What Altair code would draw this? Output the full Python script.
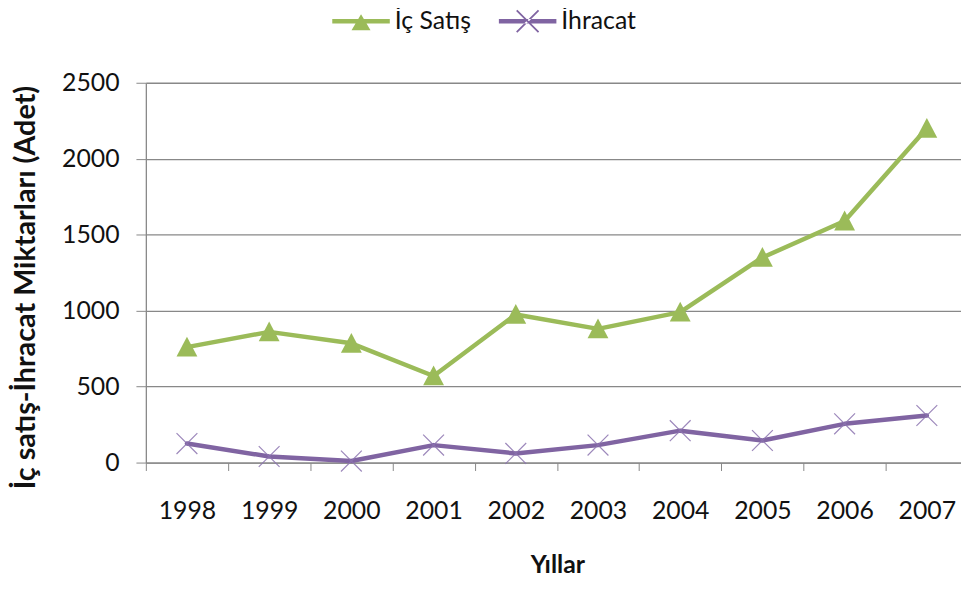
import altair as alt
import pandas as pd

# ---- data ----
years = [1998, 1999, 2000, 2001, 2002, 2003, 2004, 2005, 2006, 2007]
ic_satis = [760, 860, 785, 570, 975, 880, 990, 1350, 1590, 2200]
ihracat = [125, 40, 10, 115, 60, 115, 210, 145, 255, 310]
series_names = ["İç Satış", "İhracat"]
series_colors = ["#9BBB59", "#8064A2"]
y_ticks = [0, 500, 1000, 1500, 2000, 2500]
x_title = "Yıllar"
y_title = "İç satış-İhracat Miktarları (Adet)"

df = pd.DataFrame({
    "Yıl": [str(y) for y in years] * 2,
    "Değer": ic_satis + ihracat,
    "Seri": [series_names[0]] * len(years) + [series_names[1]] * len(years),
})

FONT = "Lato"
GRAY = "#888888"
TXT = "#111111"

x_scale = alt.Scale(type="band", paddingInner=0, paddingOuter=0)
y_scale = alt.Scale(domain=[y_ticks[0], y_ticks[-1]], nice=False)

x_enc = alt.X(
    "Yıl:O",
    scale=x_scale,
    sort=[str(y) for y in years],
    axis=alt.Axis(
        tickBand="extent",
        labelAngle=0,
        tickSize=8,
        tickColor=GRAY,
        domainColor=GRAY,
        domainWidth=1.3,
        labelPadding=28,
        labelFont=FONT,
        labelFontSize=25,
        labelColor=TXT,
        grid=False,
        title=x_title,
        titleFont=FONT,
        titleFontSize=25,
        titleFontWeight="bold",
        titleColor=TXT,
        titleX=415,
        titleY=103,
        titleBaseline="middle",
        titleAlign="center",
    ),
)

y_enc = alt.Y(
    "Değer:Q",
    scale=y_scale,
    axis=alt.Axis(
        values=y_ticks,
        format="d",
        tickSize=10,
        tickColor=GRAY,
        domainColor=GRAY,
        domainWidth=1.3,
        gridColor=GRAY,
        gridWidth=1.3,
        labelPadding=17,
        labelFont=FONT,
        labelFontSize=25,
        labelColor=TXT,
        title=y_title,
        titleFont=FONT,
        titleFontSize=29,
        titleFontWeight="bold",
        titleColor=TXT,
        titleAngle=270,
        titleX=-121,
        titleY=206,
        titleAlign="center",
        titleBaseline="middle",
    ),
)

base = alt.Chart(df).encode(x=x_enc, y=y_enc)

s0 = alt.datum.Seri == series_names[0]
s1 = alt.datum.Seri == series_names[1]

line0 = base.transform_filter(s0).mark_line(
    color=series_colors[0], strokeWidth=4.5, strokeJoin="round", strokeCap="round"
)
pts0 = base.transform_filter(s0).mark_point(
    shape="M0,-1L1,0.9L-1,0.9Z", size=441, filled=True, opacity=1, color=series_colors[0]
)
line1 = base.transform_filter(s1).mark_line(
    color=series_colors[1], strokeWidth=4.5, strokeJoin="round", strokeCap="round"
)
pts1 = base.transform_filter(s1).mark_point(
    shape="M-1,-1L1,1M1,-1L-1,1", size=441, filled=False, opacity=0.85,
    color="#8C74B0", strokeWidth=1.2
)

# legend symbols: line + marker drawn as filled shapes (unit = half symbol width)
leg_tri = ("M-1,-0.076L1,-0.076L1,0.076L-1,0.076Z "
           "M0,-0.24L0.33,0.31L-0.33,0.31Z")
a, e = 0.38, 0.022
leg_x = ("M-1,-0.076L1,-0.076L1,0.076L-1,0.076Z "
         f"M{-a+e},{-a-e}L{a+e},{a-e}L{a-e},{a+e}L{-a-e},{-a+e}Z "
         f"M{a-e},{-a-e}L{-a-e},{a-e}L{-a+e},{a+e}L{a+e},{-a+e}Z")

legend = alt.Legend(
    title=None,
    orient="none",
    direction="horizontal",
    legendX=188,
    legendY=-91,
    padding=0,
    columnPadding=28,
    labelOffset=5,
    symbolSize=3364,
    symbolStrokeWidth=0,
    symbolOpacity=1,
    labelFont=FONT,
    labelFontSize=25,
    labelColor=TXT,
)

legend_layer = base.mark_point(filled=True, opacity=0).encode(
    color=alt.Color("Seri:N", scale=alt.Scale(domain=series_names, range=series_colors), legend=legend),
    shape=alt.Shape("Seri:N", scale=alt.Scale(domain=series_names, range=[leg_tri, leg_x]), legend=legend),
)

# the plot area runs 7px past the right edge of the picture, as in the reference
chart = (
    alt.layer(line0, pts0, line1, pts1, legend_layer)
    .properties(
        width=829,
        height=383,
        autosize=alt.AutoSizeParams(type="none"),
        padding={"left": 139, "top": 73, "right": -7, "bottom": 112},
        background="white",
    )
    .configure_view(stroke=None)
)

chart.save("out.html", embed_options={"renderer": "svg", "actions": False})
